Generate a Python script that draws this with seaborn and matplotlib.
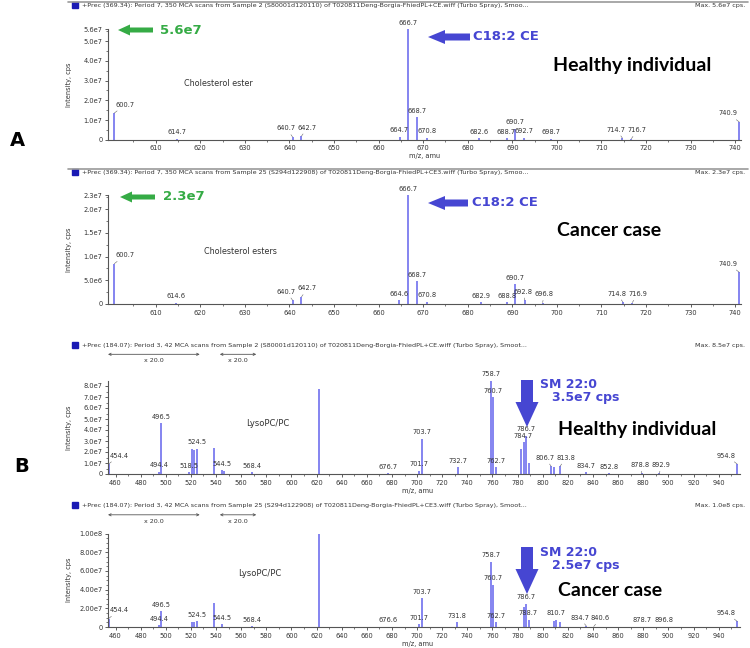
import matplotlib
matplotlib.use("Agg")
import matplotlib.pyplot as plt
from matplotlib.lines import Line2D
from matplotlib.patches import FancyArrowPatch, Rectangle
import seaborn as sns

# ---- panel A, healthy individual (cholesterol esters, prec 369.34) ----
a1_mz = [600.7, 614.7, 640.7, 642.7, 664.7, 666.7, 668.7, 670.8, 682.6, 688.7,
         690.7, 692.7, 698.7, 714.7, 716.7, 740.9]
a1_int = [1.35e7, 0.05e7, 0.14e7, 0.18e7, 0.15e7, 5.6e7, 1.15e7, 0.1e7, 0.08e7, 0.08e7,
          0.55e7, 0.1e7, 0.05e7, 0.08e7, 0.05e7, 0.9e7]
a1_lab = ["600.7", "614.7", "640.7", "642.7", "664.7", "666.7", "668.7", "670.8", "682.6", "688.7",
          "690.7", "692.7", "698.7", "714.7", "716.7", "740.9"]

# ---- panel A, cancer case ----
a2_mz = [600.7, 614.6, 640.7, 642.7, 664.6, 666.7, 668.7, 670.8, 682.9, 688.8,
         690.7, 692.8, 696.8, 714.8, 716.9, 740.9]
a2_int = [0.85e7, 0.03e7, 0.08e7, 0.15e7, 0.08e7, 2.3e7, 0.48e7, 0.05e7, 0.04e7, 0.04e7,
          0.42e7, 0.08e7, 0.03e7, 0.04e7, 0.03e7, 0.67e7]
a2_lab = ["600.7", "614.6", "640.7", "642.7", "664.6", "666.7", "668.7", "670.8", "682.9", "688.8",
          "690.7", "692.8", "696.8", "714.8", "716.9", "740.9"]

# ---- panel B, healthy individual (LysoPC/PC, prec 184.07) ----
b1_mz = [454.2, 454.4, 494.4, 496.5, 518.5, 520.5, 522.5, 524.5, 538.5, 544.5, 546.5,
         568.4, 622.0, 676.7, 701.7, 703.7, 732.7, 758.7, 760.7, 762.7, 782.7, 784.7,
         786.7, 788.7, 806.7, 808.7, 813.8, 834.7, 852.8, 878.8, 892.9, 954.8]
b1_int = [8.2e7, 0.9e7, 0.2e7, 4.6e7, 0.15e7, 2.3e7, 2.2e7, 2.3e7, 2.4e7, 0.35e7, 0.25e7,
          0.15e7, 7.7e7, 0.05e7, 0.3e7, 3.2e7, 0.6e7, 8.5e7, 7.0e7, 0.6e7, 2.3e7, 2.9e7,
          3.5e7, 1.0e7, 0.7e7, 0.6e7, 0.7e7, 0.15e7, 0.05e7, 0.05e7, 0.05e7, 0.9e7]
b1_lab = ["", "454.4", "494.4", "496.5", "518.5", "", "", "524.5", "", "544.5", "",
          "568.4", "", "676.7", "701.7", "703.7", "732.7", "758.7", "760.7", "762.7", "", "784.7",
          "786.7", "", "806.7", "", "813.8", "834.7", "852.8", "878.8", "892.9", "954.8"]

# ---- panel B, cancer case ----
b2_mz = [454.2, 454.4, 494.4, 496.5, 520.5, 522.5, 524.5, 538.5, 544.5, 568.4, 622.0,
         676.6, 701.7, 703.7, 731.8, 758.7, 760.7, 762.7, 784.7, 786.7, 788.7, 808.7,
         810.7, 813.8, 834.7, 840.6, 878.7, 896.8, 954.8]
b2_int = [10.0e7, 0.9e7, 0.2e7, 1.7e7, 0.55e7, 0.5e7, 0.6e7, 2.6e7, 0.3e7, 0.1e7, 10.0e7,
          0.05e7, 0.3e7, 3.1e7, 0.5e7, 7.0e7, 4.5e7, 0.5e7, 2.1e7, 2.5e7, 0.8e7, 0.6e7,
          0.8e7, 0.5e7, 0.1e7, 0.05e7, 0.05e7, 0.05e7, 0.6e7]
b2_lab = ["", "454.4", "494.4", "496.5", "", "", "524.5", "", "544.5", "568.4", "",
          "676.6", "701.7", "703.7", "731.8", "758.7", "760.7", "762.7", "", "786.7", "788.7", "",
          "810.7", "", "834.7", "840.6", "878.7", "896.8", "954.8"]

# axis ticks
a_xticks = list(range(610, 741, 10))
b_xticks = list(range(460, 941, 20))
a1_yticks = [0, 1e7, 2e7, 3e7, 4e7, 5e7, 5.6e7]
a1_ylabs = ["0", "1.0e7", "2.0e7", "3.0e7", "4.0e7", "5.0e7", "5.6e7"]
a2_yticks = [0, 5e6, 1e7, 1.5e7, 2e7, 2.3e7]
a2_ylabs = ["0", "5.0e6", "1.0e7", "1.5e7", "2.0e7", "2.3e7"]
b1_yticks = [0, 1e7, 2e7, 3e7, 4e7, 5e7, 6e7, 7e7, 8e7]
b1_ylabs = ["0", "1.0e7", "2.0e7", "3.0e7", "4.0e7", "5.0e7", "6.0e7", "7.0e7", "8.0e7"]
b2_yticks = [0, 2e7, 4e7, 6e7, 8e7, 1e8]
b2_ylabs = ["0", "2.00e7", "4.00e7", "6.00e7", "8.00e7", "1.00e8"]

head_a1 = "+Prec (369.34): Period 7, 350 MCA scans from Sample 2 (S80001d120110) of T020811Deng-Borgia-FhiedPL+CE.wiff (Turbo Spray), Smoo..."
head_a2 = "+Prec (369.34): Period 7, 350 MCA scans from Sample 25 (S294d122908) of T020811Deng-Borgia-FhiedPL+CE3.wiff (Turbo Spray), Smoo..."
head_b1 = "+Prec (184.07): Period 3, 42 MCA scans from Sample 2 (S80001d120110) of T020811Deng-Borgia-FhiedPL+CE.wiff (Turbo Spray), Smoot..."
head_b2 = "+Prec (184.07): Period 3, 42 MCA scans from Sample 25 (S294d122908) of T020811Deng-Borgia-FhiedPL+CE3.wiff (Turbo Spray), Smoot..."

PEAK = "#7b7bef"
BLUE = "#4646d2"
GREEN = "#35ab45"
W, H = 750, 648

sns.set_theme(style="ticks")
plt.rcParams["font.family"] = ["DejaVu Sans"]
fig = plt.figure(figsize=(W / 100, H / 100), dpi=100)


def fx(x):
    return x / W


def fy(y):
    return 1 - y / H


def px_axes(left, top, right, bottom):
    return fig.add_axes([fx(left), fy(bottom), (right - left) / W, (bottom - top) / H])


def label_shifts(ax, mz, inten, labels):
    # spread neighbouring peak labels apart (pixel shifts), like the leader-line labels
    bb = ax.get_position()
    x0, x1 = ax.get_xlim()
    y0, y1 = ax.get_ylim()
    sx = bb.width * W / (x1 - x0)
    sy = bb.height * H / (y1 - y0)
    idx = [i for i, t in enumerate(labels) if t]
    shift = {i: 0.0 for i in idx}
    for i in idx:
        if (mz[i] - x0) * sx < 10:
            shift[i] = 11.0
        elif (x1 - mz[i]) * sx < 10:
            shift[i] = -11.0
    for a, b in zip(idx[:-1], idx[1:]):
        d = (mz[b] - mz[a]) * sx
        if d < 21 and abs(inten[b] - inten[a]) * sy < 6:
            push = (21 - d) / 2
            shift[a] -= push
            shift[b] += push
    return shift


def spectrum(ax, mz, inten, labels, xlim, ylim, xticks, xminor, yticks, ylabs, yminor):
    ax.vlines(mz, 0, inten, color=PEAK, lw=1.3)
    ax.set_xlim(*xlim)
    ax.set_ylim(*ylim)
    shift = label_shifts(ax, mz, inten, labels)
    for i, (x, y, t) in enumerate(zip(mz, inten, labels)):
        if not t:
            continue
        dx = shift[i] * 0.72
        if dx == 0:
            ax.annotate(t, (x, y), xytext=(0, 2.5), textcoords="offset points",
                        ha="center", va="bottom", fontsize=4.8, color="#333333")
        else:
            ax.annotate(t, (x, y), xytext=(dx, 4), textcoords="offset points",
                        ha="center", va="bottom", fontsize=4.8, color="#333333",
                        arrowprops=dict(arrowstyle="-", lw=0.4, color="#666666",
                                        shrinkA=0, shrinkB=0))
    ax.set_xticks(xticks)
    ax.set_xticklabels([str(t) for t in xticks])
    ax.set_xticks(xminor, minor=True)
    ax.set_yticks(yticks)
    ax.set_yticklabels(ylabs)
    ax.set_yticks(yminor, minor=True)
    ax.tick_params(axis="both", which="major", labelsize=4.8, length=2.5, width=0.6,
                   pad=1.5, colors="#444444", labelcolor="#333333")
    ax.tick_params(axis="both", which="minor", length=1.2, width=0.5, colors="#444444")
    ax.set_facecolor("none")
    sns.despine(ax=ax)
    for s in ("left", "bottom"):
        ax.spines[s].set_color("#555555")
        ax.spines[s].set_linewidth(0.8)
    ax.set_ylabel("Intensity, cps", fontsize=4.8, color="#333333")
    ax.yaxis.set_label_coords(-0.057, 0.5)


def header(y, text, maxtxt, line=True):
    if line:
        fig.add_artist(Line2D([fx(68), fx(748)], [fy(y - 3), fy(y - 3)], color="#9a9a9a", lw=1.2))
    fig.add_artist(Rectangle((fx(72), fy(y + 3)), 6 / W, 6 / H, color="#1a1ab4",
                             transform=fig.transFigure))
    fig.text(fx(82), fy(y), text, fontsize=4.6, color="#333333", va="center", ha="left")
    fig.text(fx(745), fy(y), maxtxt, fontsize=4.6, color="#333333", va="center", ha="right")


def arrow(x0, y0, x1, y1, color, hw, hl, tw):
    # sizes given in pixels, converted to points (dpi 100)
    k = 72 / 100
    fig.add_artist(FancyArrowPatch(
        (fx(x0), fy(y0)), (fx(x1), fy(y1)), transform=fig.transFigure,
        arrowstyle=f"simple,head_width={hw * k},head_length={hl * k},tail_width={tw * k}",
        mutation_scale=1, color=color, shrinkA=0, shrinkB=0, lw=0))


def bracket(ax, x0, x1, y, label, ly):
    ax.annotate("", xy=(x0, y), xytext=(x1, y), xycoords=("data", "axes fraction"),
                arrowprops=dict(arrowstyle="<->", color="#555555", lw=0.6,
                                shrinkA=0, shrinkB=0, mutation_scale=4))
    ax.annotate(label, xy=((x0 + x1) / 2, ly), xycoords=("data", "axes fraction"),
                ha="center", va="center", fontsize=4.6, color="#333333")


def ftext(x, y, s, **kw):
    fig.text(fx(x), fy(y), s, va="center", **kw)


# ---------------- panel A healthy ----------------
ax1 = px_axes(108, 29.4, 741, 139.7)
spectrum(ax1, a1_mz, a1_int, a1_lab, (599.3, 741.3), (0, 5.6e7), a_xticks,
         list(range(605, 741, 5)), a1_yticks, a1_ylabs, [i * 0.5e7 for i in range(12)])
ax1.set_xlabel("m/z, amu", fontsize=4.8, color="#333333")
ax1.xaxis.set_label_coords(0.5, -0.125)
header(5, head_a1, "Max. 5.6e7 cps.")
arrow(153, 30, 118, 30, GREEN, 11, 12, 5)
ftext(160, 30, "5.6e7", color=GREEN, fontsize=9.5, fontweight="bold")
arrow(470, 37, 428, 37, BLUE, 14, 17, 7)
ftext(473, 37, "C18:2 CE", color=BLUE, fontsize=9.5, fontweight="bold")
ftext(553, 65, "Healthy individual", color="black", fontsize=14, fontweight="bold", family="Lato")
ftext(218, 84, "Cholesterol ester", color="#333333", fontsize=5.8, ha="center")
ftext(17, 140, "A", color="black", fontsize=14, fontweight="bold", ha="center")

# ---------------- panel A cancer ----------------
ax2 = px_axes(108, 195, 741, 304)
spectrum(ax2, a2_mz, a2_int, a2_lab, (599.3, 741.3), (0, 2.3e7), a_xticks,
         list(range(605, 741, 5)), a2_yticks, a2_ylabs, [i * 0.25e7 for i in range(10)])
header(172, head_a2, "Max. 2.3e7 cps.")
arrow(155, 197, 120, 197, GREEN, 11, 12, 5)
ftext(163, 197, "2.3e7", color=GREEN, fontsize=9.5, fontweight="bold")
arrow(468, 203, 428, 203, BLUE, 14, 17, 7)
ftext(472, 203, "C18:2 CE", color=BLUE, fontsize=9.5, fontweight="bold")
ftext(557, 231, "Cancer case", color="black", fontsize=14, fontweight="bold", family="Lato")
ftext(240, 251, "Cholesterol esters", color="#333333", fontsize=5.8, ha="center")

# ---------------- panel B healthy ----------------
ax3 = px_axes(108, 380.5, 740, 474)
spectrum(ax3, b1_mz, b1_int, b1_lab, (454.0, 957.0), (0, 8.5e7), b_xticks,
         list(range(470, 951, 10)), b1_yticks, b1_ylabs, [i * 0.5e7 for i in range(17)])
ax3.set_xlabel("m/z, amu", fontsize=4.8, color="#333333")
ax3.xaxis.set_label_coords(0.49, -0.15)
header(345, head_b1, "Max. 8.5e7 cps.", line=False)
bracket(ax3, 454.0, 527.0, 1.28, "x 20.0", 1.21)
bracket(ax3, 543.0, 572.0, 1.28, "x 20.0", 1.21)
arrow(527, 380, 527, 427, BLUE, 23, 25, 12)
ftext(540, 385, "SM 22:0", color=BLUE, fontsize=9, fontweight="bold")
ftext(552, 398, "3.5e7 cps", color=BLUE, fontsize=9, fontweight="bold")
ftext(558, 430, "Healthy individual", color="black", fontsize=14, fontweight="bold", family="Lato")
ftext(268, 423, "LysoPC/PC", color="#333333", fontsize=6, ha="center")
ftext(22, 466, "B", color="black", fontsize=14, fontweight="bold", ha="center")

# ---------------- panel B cancer ----------------
ax4 = px_axes(108, 533.5, 740, 627)
spectrum(ax4, b2_mz, b2_int, b2_lab, (454.0, 957.0), (0, 1.0e8), b_xticks,
         list(range(470, 951, 10)), b2_yticks, b2_ylabs, [i * 0.5e7 for i in range(21)])
ax4.set_xlabel("m/z, amu", fontsize=4.8, color="#333333")
ax4.xaxis.set_label_coords(0.49, -0.15)
header(505, head_b2, "Max. 1.0e8 cps.", line=False)
bracket(ax4, 454.0, 527.0, 1.20, "x 20.0", 1.13)
bracket(ax4, 543.0, 572.0, 1.20, "x 20.0", 1.13)
arrow(527, 547, 527, 594, BLUE, 23, 25, 12)
ftext(540, 553, "SM 22:0", color=BLUE, fontsize=9, fontweight="bold")
ftext(552, 566, "2.5e7 cps", color=BLUE, fontsize=9, fontweight="bold")
ftext(558, 590, "Cancer case", color="black", fontsize=14, fontweight="bold", family="Lato")
ftext(260, 573, "LysoPC/PC", color="#333333", fontsize=6, ha="center")

fig.savefig("out.png", dpi=100)
